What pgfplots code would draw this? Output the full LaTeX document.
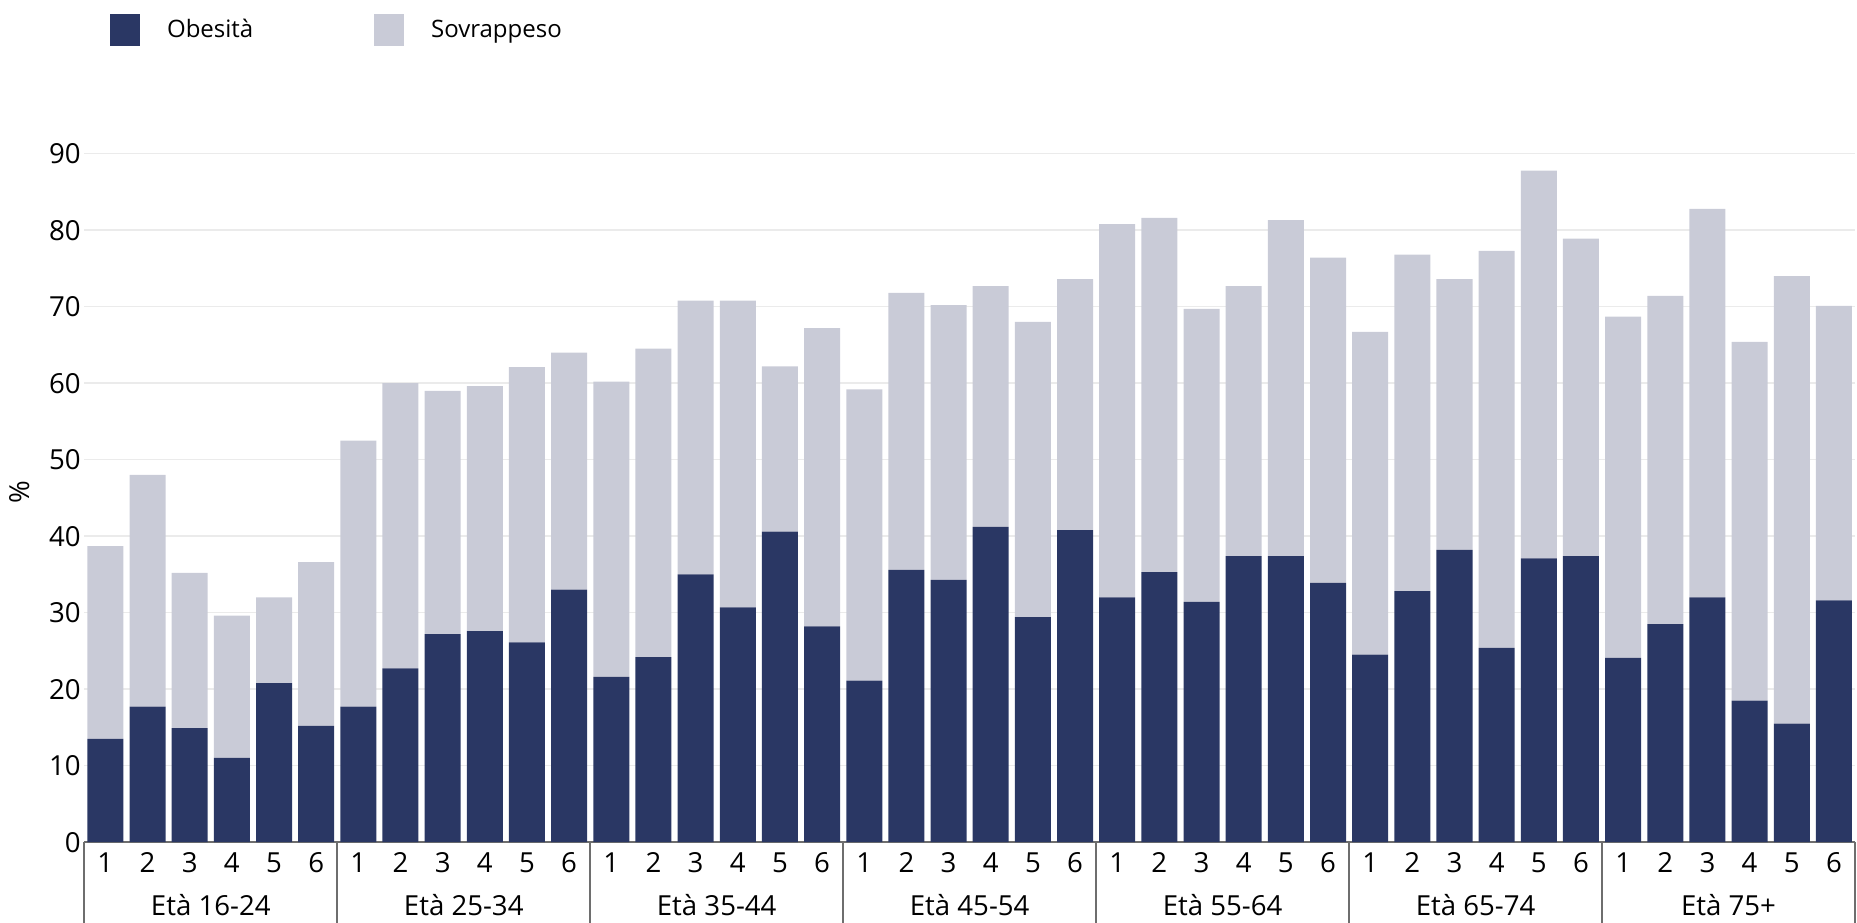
\documentclass[border=0pt]{standalone}
\usepackage{pgfplots}
\pgfplotsset{compat=1.18}
\usepackage{pgfplotstable}
\usepackage{fontspec}
\setmainfont{Open Sans}

\definecolor{obes}{HTML}{2A3764}
\definecolor{sovr}{HTML}{C9CBD7}
\definecolor{gridc}{HTML}{EBEBEB}
\definecolor{sepc}{HTML}{6E6E6E}

% x: bar index, ob: Obesita, sv: Sovrappeso (stacked on top)
\pgfplotstableread{
x  ob    sv
0  13.5  25.2
1  17.7  30.3
2  14.9  20.3
3  11.0  18.6
4  20.8  11.2
5  15.2  21.4
6  17.7  34.8
7  22.7  37.3
8  27.2  31.8
9  27.6  32.0
10 26.1  36.0
11 33.0  31.0
12 21.6  38.6
13 24.2  40.3
14 35.0  35.8
15 30.7  40.1
16 40.6  21.6
17 28.2  39.0
18 21.1  38.1
19 35.6  36.2
20 34.3  35.9
21 41.2  31.5
22 29.4  38.6
23 40.8  32.8
24 32.0  48.8
25 35.3  46.3
26 31.4  38.3
27 37.4  35.3
28 37.4  43.9
29 33.9  42.5
30 24.5  42.2
31 32.8  44.0
32 38.2  35.4
33 25.4  51.9
34 37.1  50.7
35 37.4  41.5
36 24.1  44.6
37 28.5  42.9
38 32.0  50.8
39 18.5  46.9
40 15.5  58.5
41 31.6  38.5
}\data

\newcommand{\lbl}{\fontsize{13.8}{16}\selectfont}
\newcommand{\leg}{\fontsize{12}{14}\selectfont}

\begin{document}
\begin{tikzpicture}
\begin{axis}[
    scale only axis,
    width=885.4pt, height=344.25pt,
    xmin=-0.5, xmax=41.5,
    ymin=0, ymax=90,
    ybar stacked,
    bar width=0.854,
    bar shift=0pt,
    clip=false,
    xtick=data,
    xticklabels={1,2,3,4,5,6,1,2,3,4,5,6,1,2,3,4,5,6,1,2,3,4,5,6,1,2,3,4,5,6,1,2,3,4,5,6,1,2,3,4,5,6},
    ytick={0,10,...,90},
    /pgf/number format/assume math mode=true,
    major tick length=0pt,
    tick style={draw=none},
    ymajorgrids,
    grid style={gridc, line width=0.8pt},
    y axis line style={draw=none},
    x axis line style={sepc, line width=0.8pt},
    axis x line*=bottom,
    ticklabel style={font=\lbl, text=black},
    yticklabel style={inner xsep=0pt, xshift=-1.6pt},
    xticklabel style={anchor=center, yshift=-10.4pt},
    ylabel={\%},
    every axis y label/.style={at={(axis description cs:-0.0363,0.509)}, rotate=90, anchor=center, font=\lbl},
    legend style={at={(0,1)}, anchor=north west, xshift=12.85pt, yshift=69.95pt,
        draw=none, fill=none, inner sep=0pt, legend columns=2, font=\leg,
        nodes={inner xsep=0pt},
        /tikz/every odd column/.append style={column sep=13.35pt},
        /tikz/every even column/.append style={column sep=0pt}},
    legend image code/.code={\fill[#1] (0pt,-8pt) rectangle (15pt,8pt);},
]
\addplot[fill=obes, draw=none] table[x=x, y=ob] {\data};
\addlegendentry{\makebox[103.65pt][l]{Obesità}}
\addplot[fill=sovr, draw=none] table[x=x, y=sv] {\data};
\addlegendentry{Sovrappeso}

\coordinate (bl) at (rel axis cs:0,0);
\coordinate (tr) at (rel axis cs:1,1);

\pgfplotsinvokeforeach{-0.5,5.5,11.5,17.5,23.5,29.5,35.5,41.5}{
  \draw[sepc, line width=1pt] (axis cs:#1,0) -- ++(0pt,-41pt);
}
\node[font=\lbl] at ([yshift=-31.4pt]axis cs:2.5,0) {Età 16-24};
\node[font=\lbl] at ([yshift=-31.4pt]axis cs:8.5,0) {Età 25-34};
\node[font=\lbl] at ([yshift=-31.4pt]axis cs:14.5,0) {Età 35-44};
\node[font=\lbl] at ([yshift=-31.4pt]axis cs:20.5,0) {Età 45-54};
\node[font=\lbl] at ([yshift=-31.4pt]axis cs:26.5,0) {Età 55-64};
\node[font=\lbl] at ([yshift=-31.4pt]axis cs:32.5,0) {Età 65-74};
\node[font=\lbl] at ([yshift=-31.4pt]axis cs:38.5,0) {Età 75+};
\end{axis}
\pgfresetboundingbox
\path ([xshift=-42.15pt,yshift=-40.4pt]bl) rectangle ([xshift=1pt,yshift=76.85pt]tr);
\end{tikzpicture}
\end{document}
